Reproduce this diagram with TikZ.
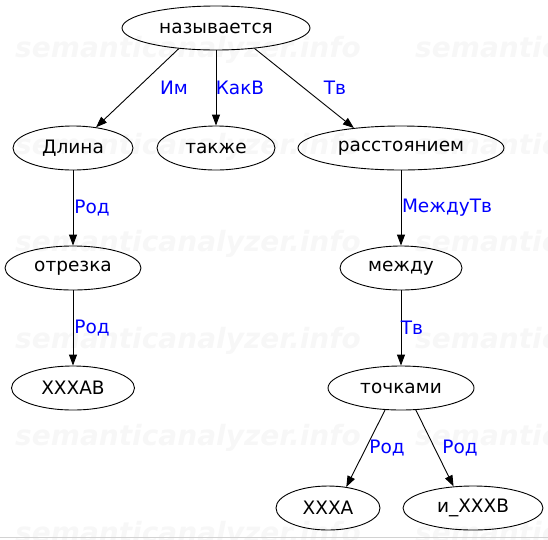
\documentclass[tikz,border=0pt]{standalone}
\usepackage{fontspec}
\setmainfont{DejaVu Sans}
\usetikzlibrary{shapes.geometric,arrows.meta}

\begin{document}
\begin{tikzpicture}[x=1pt,y=-1pt,
	word/.style={draw, ellipse, line width=0.9pt, inner sep=0pt,
		minimum height=44pt, font=\fontsize{18.5}{20}\selectfont},
	rel/.style={text=blue, inner sep=0pt, font=\fontsize{18.5}{20}\selectfont},
	edge/.style={line width=0.9pt, -{Triangle[length=11pt,width=8pt]}},
	wmark/.style={text=gray!6, inner sep=0pt, anchor=base west,
		font=\fontsize{28}{30}\selectfont\bfseries\itshape}]
\useasboundingbox (0,0) rectangle (548,539);
%========================================
% Watermark rows
%========================================
\begin{scope}
	\clip (0,0) rectangle (548,539);
	\foreach \r in {0,...,5}
	\foreach \c in {0,1}
	\node[wmark] (wm-\r-\c) at (15+400*\c,57+97*\r) {semanticanalyzer.info};
\end{scope}
%========================================
% Words
%========================================
\node[word, minimum width=188pt] (nazyv) at (216,28) {называется};
% left branch
\node[word, minimum width=120pt] (dlina) at (73,148) {Длина};
\node[word, minimum width=136pt] (otrezka) at (73,268) {отрезка};
\node[word, minimum width=123pt] (xxxab) at (73,388) {XXXAB};
% middle
\node[word, minimum width=118pt] (takzhe) at (216,148) {также};
% right branch
\node[word, minimum width=206pt] (rasst) at (401,148) {расстоянием};
\node[word, minimum width=122pt] (mezhdu) at (401,268) {между};
\node[word, minimum width=146pt] (tochkami) at (401,388) {точками};
\node[word, minimum width=104pt] (xxxa) at (328,508) {XXXA};
\node[word, minimum width=140pt] (ixxxb) at (473,508) {и\_XXXB};
%========================================
% Relations
%========================================
\draw[edge] (nazyv.209) -- (dlina.42);
\draw[edge] (nazyv) -- (takzhe);
\draw[edge] (nazyv.332) -- (rasst.157);
\draw[edge] (dlina) -- (otrezka);
\draw[edge] (otrezka) -- (xxxab);
\draw[edge] (rasst) -- (mezhdu);
\draw[edge] (mezhdu) -- (tochkami);
\draw[edge] (tochkami.234) -- (xxxa.49);
\draw[edge] (tochkami.304) -- (ixxxb.132);
% labels
\node[rel] (lIm) at (174,88) {Им};
\node[rel] (lKakV) at (240,88) {КакВ};
\node[rel] (lTv1) at (335,88) {Тв};
\node[rel] (lRod1) at (92,208) {Род};
\node[rel] (lRod2) at (92,328) {Род};
\node[rel] (lMezhduTv) at (447,208) {МеждуТв};
\node[rel] (lTv2) at (412,328) {Тв};
\node[rel] (lRod3) at (387,448) {Род};
\node[rel] (lRod4) at (460,448) {Род};
% bottom rule
\draw[gray!35, line width=1.5pt] (0,537.5) -- (548,537.5);
\end{tikzpicture}
\end{document}
